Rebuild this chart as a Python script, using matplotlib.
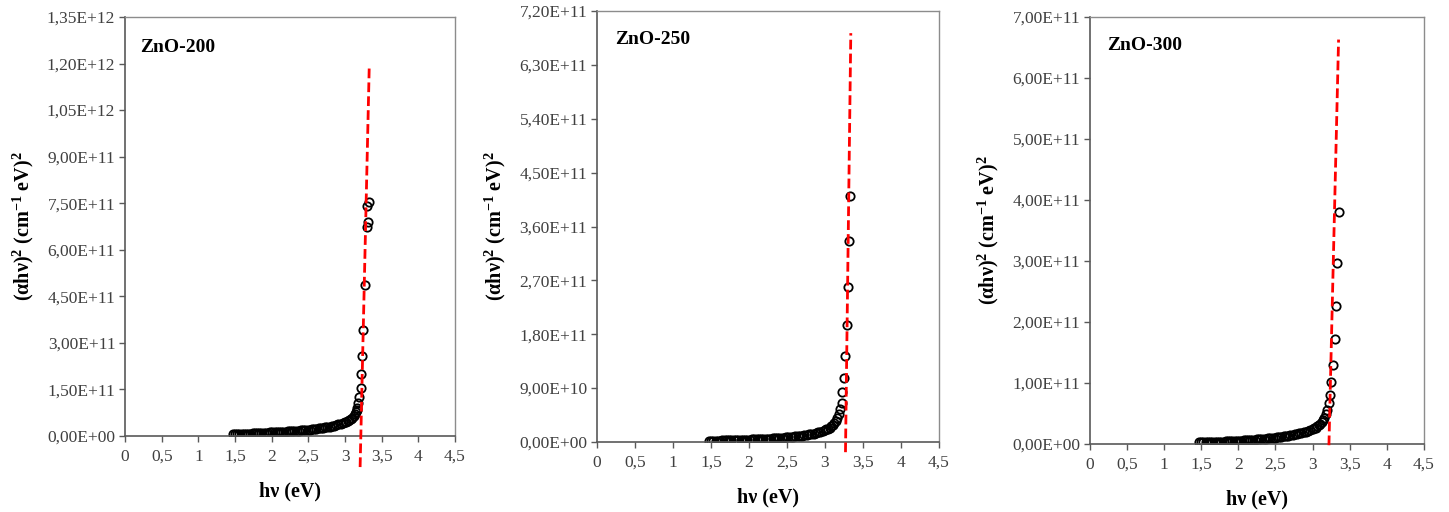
import matplotlib
matplotlib.use("Agg")
import matplotlib.pyplot as plt
from matplotlib.ticker import FuncFormatter, MultipleLocator

plt.rcParams['font.family'] = ['Liberation Serif', 'DejaVu Serif']
plt.rcParams['mathtext.fontset'] = 'custom'
plt.rcParams['mathtext.rm'] = 'Liberation Serif:bold'
plt.rcParams['mathtext.bf'] = 'Liberation Serif:bold'
plt.rcParams['mathtext.it'] = 'Liberation Serif:bold'
plt.rcParams['mathtext.default'] = 'bf'

# shared photon-energy grid for the flat part of the curves (eV)
hv_low = [1.47, 1.50, 1.53, 1.56, 1.59, 1.62, 1.65, 1.68, 1.71, 1.74,
          1.77, 1.80, 1.83, 1.86, 1.89, 1.92, 1.95, 1.98, 2.01, 2.04,
          2.07, 2.10, 2.13, 2.16, 2.19, 2.22, 2.25, 2.28, 2.31, 2.34,
          2.37, 2.40, 2.43, 2.46, 2.49, 2.52, 2.55, 2.58, 2.61, 2.64,
          2.67, 2.70, 2.73, 2.76, 2.79, 2.82, 2.85, 2.88, 2.91, 2.94,
          2.97, 3.00, 3.02, 3.04, 3.06, 3.08, 3.10, 3.12, 3.14]

# (alpha h nu)^2 on that grid, in units of 1e10
zno200_low = [0.60, 0.62, 0.65, 0.67, 0.70, 0.73, 0.75, 0.78, 0.81, 0.85,
              0.88, 0.92, 0.95, 0.99, 1.03, 1.07, 1.11, 1.15, 1.19, 1.23,
              1.27, 1.32, 1.36, 1.41, 1.45, 1.50, 1.55, 1.60, 1.65, 1.71,
              1.77, 1.83, 1.89, 1.96, 2.03, 2.10, 2.18, 2.26, 2.35, 2.45,
              2.55, 2.66, 2.78, 2.91, 3.05, 3.20, 3.36, 3.53, 3.72, 3.93,
              4.15, 4.40, 4.60, 4.85, 5.15, 5.50, 5.95, 6.45, 7.10]
zno250_low = [0.20, 0.21, 0.22, 0.23, 0.24, 0.25, 0.26, 0.27, 0.28, 0.29,
              0.30, 0.31, 0.32, 0.33, 0.35, 0.36, 0.37, 0.39, 0.40, 0.42,
              0.43, 0.45, 0.47, 0.49, 0.51, 0.53, 0.55, 0.57, 0.60, 0.62,
              0.65, 0.68, 0.71, 0.74, 0.77, 0.81, 0.85, 0.89, 0.93, 0.98,
              1.03, 1.08, 1.14, 1.20, 1.27, 1.34, 1.42, 1.51, 1.61, 1.72,
              1.84, 1.98, 2.10, 2.24, 2.40, 2.60, 2.85, 3.15, 3.55]
zno300_low = [0.25, 0.26, 0.27, 0.28, 0.30, 0.31, 0.33, 0.34, 0.36, 0.37,
              0.39, 0.40, 0.42, 0.44, 0.46, 0.48, 0.50, 0.52, 0.54, 0.57,
              0.59, 0.62, 0.64, 0.67, 0.70, 0.73, 0.76, 0.79, 0.82, 0.86,
              0.89, 0.93, 0.97, 1.01, 1.05, 1.10, 1.15, 1.20, 1.25, 1.31,
              1.37, 1.43, 1.50, 1.57, 1.65, 1.73, 1.82, 1.92, 2.03, 2.15,
              2.28, 2.43, 2.55, 2.70, 2.87, 3.07, 3.30, 3.58, 3.92]

# absorption edge points
zno200_edge_x = [3.15, 3.16, 3.17, 3.18, 3.195, 3.215, 3.22, 3.236, 3.25, 3.27, 3.30, 3.305, 3.32, 3.33]
zno200_edge_y = [7.8e10, 8.5e10, 9.1e10, 1.05e11, 1.25e11, 1.54e11, 1.99e11, 2.58e11, 3.42e11,
                 4.85e11, 6.72e11, 7.42e11, 6.88e11, 7.55e11]
zno250_edge_x = [3.16, 3.18, 3.20, 3.22, 3.23, 3.25, 3.27, 3.29, 3.30, 3.31, 3.33]
zno250_edge_y = [4.0e10, 4.6e10, 5.5e10, 6.6e10, 8.35e10, 1.07e11, 1.44e11, 1.95e11, 2.59e11,
                 3.36e11, 4.11e11]
zno300_edge_x = [3.16, 3.18, 3.20, 3.22, 3.24, 3.25, 3.28, 3.30, 3.32, 3.33, 3.35]
zno300_edge_y = [4.3e10, 5.0e10, 5.6e10, 6.7e10, 8.1e10, 1.02e11, 1.30e11, 1.72e11, 2.27e11,
                 2.97e11, 3.80e11]

# linear extrapolation lines (Tauc fit)
fit200_x = [3.206, 3.33]
fit200_y = [-1.0e11, 1.186e12]
fit250_x = [3.27, 3.34]
fit250_y = [-1.7e10, 6.83e11]
fit300_x = [3.22, 3.35]
fit300_y = [-2e9, 6.63e11]

names = ['ZnO-200', 'ZnO-250', 'ZnO-300']
low_sets = [zno200_low, zno250_low, zno300_low]
edge_x = [zno200_edge_x, zno250_edge_x, zno300_edge_x]
edge_y = [zno200_edge_y, zno250_edge_y, zno300_edge_y]
fits = [(fit200_x, fit200_y), (fit250_x, fit250_y), (fit300_x, fit300_y)]
ymax = [1.35e12, 7.2e11, 7.0e11]
ystep = [1.5e11, 9e10, 1e11]

boxes = [[0.0863, 0.1484, 0.2277, 0.8184],
         [0.4120, 0.1367, 0.2360, 0.8418],
         [0.7522, 0.1328, 0.2305, 0.8340]]
name_pos = [(0.045, 0.928), (0.053, 0.933), (0.05, 0.934)]

fig = plt.figure(figsize=(14.49, 5.12), dpi=100)

for i in range(3):
    ax = fig.add_axes(boxes[i])
    xs = hv_low + edge_x[i]
    ys = [v * 1e10 for v in low_sets[i]] + edge_y[i]
    ax.plot(xs, ys, linestyle='none', marker='o', markersize=6,
            markerfacecolor='none', markeredgecolor='black', markeredgewidth=1.3,
            zorder=2)
    fx, fy = fits[i]
    ax.plot(fx, fy, color='#ff0000', linewidth=2, dashes=(3.5, 1.5),
            clip_on=False, zorder=3)

    ax.set_xlim(0, 4.5)
    ax.set_ylim(0, ymax[i])
    ax.xaxis.set_major_locator(MultipleLocator(0.5))
    ax.yaxis.set_major_locator(MultipleLocator(ystep[i]))
    ax.xaxis.set_major_formatter(FuncFormatter(lambda v, p: ('%g' % v).replace('.', ',')))
    ax.yaxis.set_major_formatter(FuncFormatter(lambda v, p: ('%.2E' % v).replace('.', ',')))
    ax.tick_params(direction='out', length=4, width=1, color='#595959',
                   labelcolor='#404040', labelsize=12.5, pad=3)
    ax.tick_params(axis='x', pad=5)

    for s in ['left', 'bottom']:
        ax.spines[s].set_color('#595959')
        ax.spines[s].set_linewidth(1.2)
    for s in ['top', 'right']:
        ax.spines[s].set_color('#8c8c8c')
        ax.spines[s].set_linewidth(1.0)

    ax.set_xlabel('hν (eV)', fontsize=14.5, fontweight='bold', labelpad=12)
    ax.set_ylabel(r'(αhν)$^{2}$ (cm$^{-1}$ eV)$^{2}$', fontsize=14.5,
                  fontweight='bold', labelpad=8)
    ax.text(name_pos[i][0], name_pos[i][1], names[i], transform=ax.transAxes,
            fontsize=14, fontweight='bold', va='center', ha='left')

fig.savefig('out.png', dpi=100)
